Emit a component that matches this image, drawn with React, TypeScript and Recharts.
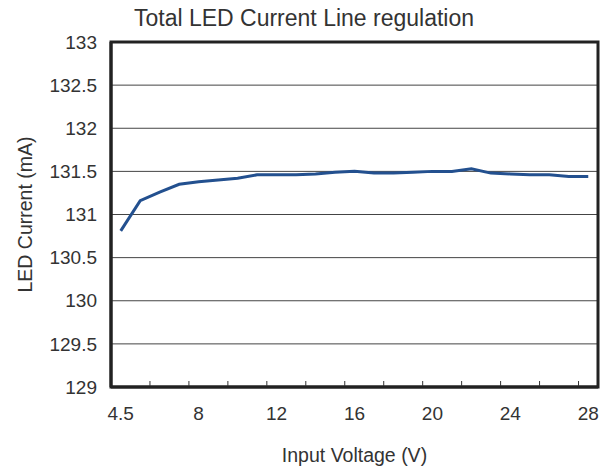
import React from 'react';
import { LineChart, Line, XAxis, YAxis, CartesianGrid, ReferenceArea } from 'recharts';

// input voltage categories (V), evenly spaced like the original category axis
const VOLTAGES = ['4.5', '5', '6', '7', '8', '9', '10', '11', '12', '13', '14', '15', '16', '17', '18', '19', '20', '21', '22', '23', '24', '25', '26', '27', '28'];

// LED current readings (mA)
const CURRENT = [130.81, 131.16, 131.26, 131.35, 131.38, 131.4, 131.42, 131.46, 131.46, 131.46, 131.47, 131.49, 131.5, 131.48, 131.48, 131.49, 131.5, 131.5, 131.53, 131.48, 131.47, 131.46, 131.46, 131.44, 131.44];

const Y_TICKS = [129, 129.5, 130, 130.5, 131, 131.5, 132, 132.5, 133];
const X_LABEL_IDX = [0, 4, 8, 12, 16, 20, 24];
const X_MINOR = [1.5, 3.5, 5.5, 7.5, 9.5, 11.5, 13.5, 15.5, 17.5, 19.5, 21.5, 23.5];

const data = VOLTAGES.map((v, i) => ({ idx: i, v, current: CURRENT[i] }));
const allTicks = [...X_LABEL_IDX, ...X_MINOR].sort((a, b) => a - b);

const FONT = 'Liberation Sans, Arial, sans-serif';
const TEXT = '#333';
const TICK_GAP = 20;

// labels at whole categories, small inward tick marks between category pairs
const XTick = (props: any) => {
  const { x, y, payload } = props;
  const val = payload.value;
  if (Number.isInteger(val)) {
    return (
      <text x={x} y={y} dy="0.71em" textAnchor="middle" fill={TEXT} fontSize={19} fontFamily={FONT}>
        {VOLTAGES[val]}
      </text>
    );
  }
  const axisY = y - TICK_GAP;
  return <line x1={x} x2={x} y1={axisY - 1} y2={axisY - 6} stroke="#333" strokeWidth={1} />;
};

const App: React.FC = () => {
  return (
    <div style={{ position: 'absolute', left: 0, top: 0, width: 607, height: 468, background: '#fff' }}>
      <svg width={607} height={40} style={{ position: 'absolute', left: 0, top: 0 }}>
        <text x={304} y={26} textAnchor="middle" fontFamily={FONT} fontSize={23} fill={TEXT}>
          Total LED Current Line regulation
        </text>
      </svg>
      <LineChart
        width={607}
        height={468}
        data={data}
        margin={{ top: 42, right: 9, bottom: 0, left: 0 }}
      >
        <CartesianGrid vertical={false} stroke="#444" strokeWidth={1} />
        <XAxis
          dataKey="idx"
          type="number"
          domain={[-0.5, 24.5]}
          ticks={allTicks}
          interval={0}
          height={81}
          tickLine={false}
          tickSize={0}
          tickMargin={TICK_GAP}
          axisLine={{ stroke: '#222', strokeWidth: 3 }}
          tick={<XTick />}
          label={{ value: 'Input Voltage (V)', position: 'insideBottom', offset: 6, fill: TEXT, fontSize: 19.5, fontFamily: FONT }}
        />
        <YAxis
          type="number"
          domain={[129, 133]}
          ticks={Y_TICKS}
          width={111}
          tickLine={false}
          tickSize={0}
          tickMargin={14}
          axisLine={{ stroke: '#222', strokeWidth: 3 }}
          tick={{ fill: TEXT, fontSize: 19, fontFamily: FONT }}
          label={{ value: 'LED Current (mA)', angle: -90, position: 'insideLeft', offset: 25, fill: TEXT, fontSize: 19.5, fontFamily: FONT, style: { textAnchor: 'middle' } }}
        />
        <ReferenceArea x1={-0.5} x2={24.5} y1={129} y2={133} fill="none" stroke="#222" strokeWidth={3} />
        <Line
          type="linear"
          dataKey="current"
          stroke="#23508f"
          strokeWidth={3}
          dot={false}
          isAnimationActive={false}
        />
      </LineChart>
    </div>
  );
};

export default App;
